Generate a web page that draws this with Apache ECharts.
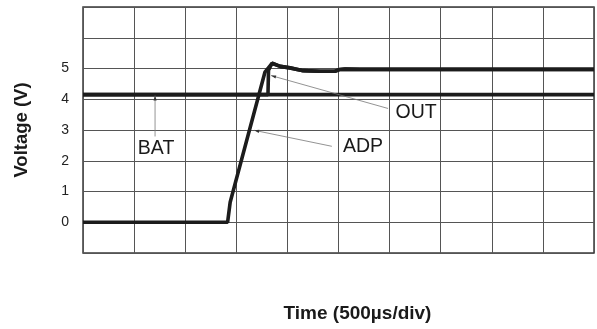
<!DOCTYPE html>
<html>
<head>
<meta charset="utf-8">
<script src="https://cdn.jsdelivr.net/npm/echarts@6/dist/echarts.min.js"></script>
<style>
html,body{margin:0;padding:0;background:#fff;}
#chart{width:597px;height:329px;}
</style>
</head>
<body>
<div id="chart"></div>
<script>
// Time in divisions (500 µs/div), voltage in V
var batTrace = [[0, 4.15], [10, 4.15]];
var outTrace = [[0, 4.15], [3.62, 4.15], [3.63, 4.95], [3.70, 5.17], [3.86, 5.07], [4.05, 5.02], [4.31, 4.93], [4.64, 4.91], [4.93, 4.91], [5.03, 4.97], [5.13, 4.98], [5.42, 4.97], [10, 4.97]];
var adpTrace = [[0, 0], [2.83, 0], [2.88, 0.65], [3.56, 4.88], [3.70, 5.17], [3.86, 5.07], [4.05, 5.02], [4.31, 4.93], [4.64, 4.91], [4.93, 4.91], [5.03, 4.97], [5.13, 4.98], [5.42, 4.97], [10, 4.97]];
var yTickLabels = ['0', '1', '2', '3', '4', '5'];
// annotation: [fromX, fromY, toX, toY, labelX, labelY, text]
var annotations = [
  [1.41, 2.79, 1.41, 4.12, 1.43, 2.40, 'BAT'],
  [5.97, 3.70, 3.68, 4.77, 6.52, 3.57, 'OUT'],
  [4.87, 2.47, 3.35, 2.99, 5.48, 2.47, 'ADP']
];

var chart = echarts.init(document.getElementById('chart'), null, {renderer: 'canvas'});
var lineStyle = {color: '#1c1c1c', width: 3.6};
var fontFamily = '"Liberation Sans", Arial, sans-serif';

chart.setOption({
  animation: false,
  grid: {left: 83, right: 3, top: 7, bottom: 76, show: true, borderColor: '#3a3a3a', borderWidth: 1.5, backgroundColor: '#fff'},
  xAxis: {
    type: 'value', min: 0, max: 10, interval: 1,
    axisLine: {show: false}, axisTick: {show: false}, axisLabel: {show: false},
    splitLine: {show: true, lineStyle: {color: '#555', width: 1}},
    name: 'Time (500µs/div)', nameLocation: 'middle', nameGap: 51,
    nameTextStyle: {fontFamily: fontFamily, fontWeight: 'bold', fontSize: 19, color: '#1a1a1a', padding: [0, 0, 0, 38]}
  },
  yAxis: {
    type: 'value', min: -1, max: 7, interval: 1,
    axisLine: {show: false}, axisTick: {show: false},
    axisLabel: {
      fontFamily: fontFamily, fontSize: 14, color: '#222', margin: 14,
      formatter: function (v) { var s = String(v); return yTickLabels.indexOf(s) >= 0 ? s : ''; }
    },
    splitLine: {show: true, lineStyle: {color: '#555', width: 1}},
    name: 'Voltage (V)', nameLocation: 'middle', nameGap: 52,
    nameTextStyle: {fontFamily: fontFamily, fontWeight: 'bold', fontSize: 18.5, color: '#1a1a1a'}
  },
  series: [
    {name: 'BAT', type: 'line', data: batTrace, showSymbol: false, lineStyle: lineStyle, z: 3},
    {name: 'OUT', type: 'line', data: outTrace, showSymbol: false, lineStyle: lineStyle, z: 3},
    {name: 'ADP', type: 'line', data: adpTrace, showSymbol: false, lineStyle: lineStyle, z: 3},
    {
      type: 'custom', data: annotations, z: 5, silent: true,
      renderItem: function (params, api) {
        var p1 = api.coord([api.value(0), api.value(1)]);
        var p2 = api.coord([api.value(2), api.value(3)]);
        var pl = api.coord([api.value(4), api.value(5)]);
        var dx = p2[0] - p1[0], dy = p2[1] - p1[1];
        var len = Math.sqrt(dx * dx + dy * dy);
        var ux = dx / len, uy = dy / len;
        var hl = 5, hw = 1.6;
        var bx = p2[0] - ux * hl, by = p2[1] - uy * hl;
        return {
          type: 'group',
          children: [
            {type: 'line', shape: {x1: p1[0], y1: p1[1], x2: p2[0], y2: p2[1]}, style: {stroke: '#777', lineWidth: 0.8}},
            {type: 'polygon', shape: {points: [[p2[0], p2[1]], [bx - uy * hw, by + ux * hw], [bx + uy * hw, by - ux * hw]]}, style: {fill: '#333'}},
            {type: 'text', x: pl[0], y: pl[1], style: {text: annotations[params.dataIndex][6], font: '19.5px ' + fontFamily, fill: '#1a1a1a', align: 'center', verticalAlign: 'middle'}}
          ]
        };
      }
    }
  ]
});
</script>
</body>
</html>
